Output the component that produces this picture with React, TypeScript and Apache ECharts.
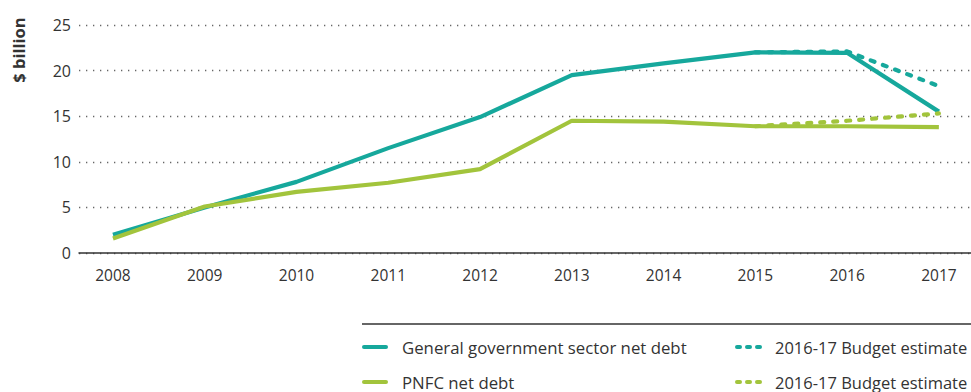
import React, { useEffect, useRef } from "react";
import * as echarts from "echarts";

const years = [2008, 2009, 2010, 2011, 2012, 2013, 2014, 2015, 2016, 2017];
const ggsNetDebt = [2.0, 5.0, 7.8, 11.5, 14.9, 19.5, 20.8, 22.0, 21.95, 15.5];
const pnfcNetDebt = [1.6, 5.1, 6.7, 7.7, 9.2, 14.5, 14.4, 13.9, 13.9, 13.8];
const budgetYears = [2015, 2016, 2017];
const ggsBudget = [22.0, 22.1, 18.3];
const pnfcBudget = [13.9, 14.5, 15.3];
const yTicks = [0, 5, 10, 15, 20, 25];

const TEAL = "#16a89c";
const GREEN = "#a2c43c";
const FONT = "Open Sans";

const pairs = (xs: number[], ys: number[]) => xs.map((x, i) => [x, ys[i]]);

export default function App() {
  const ref = useRef<HTMLDivElement>(null);
  useEffect(() => {
    if (!ref.current) return;
    const chart = echarts.init(ref.current, null, { renderer: "svg" });
    const textStyle = { fontFamily: FONT, fontSize: 16, fill: "#333" };
    chart.setOption({
      animation: false,
      grid: {
        left: 79,
        right: 0,
        top: 25,
        bottom: 139,
        containLabel: false,
        outerBoundsMode: "none",
      },
      xAxis: {
        type: "value",
        min: 2007.63,
        max: 2017.35,
        splitLine: { show: false },
        axisTick: { show: false },
        axisLine: { show: true, lineStyle: { color: "#333", width: 1.5 } },
        axisLabel: {
          customValues: years,
          formatter: (v: number) => String(v),
          fontFamily: FONT,
          fontSize: 15.5,
          color: "#333",
          margin: 14,
        },
      },
      yAxis: {
        type: "value",
        min: 0,
        max: 25,
        interval: 5,
        axisLine: { show: false },
        axisTick: { show: false },
        axisLabel: {
          customValues: yTicks,
          fontFamily: FONT,
          fontSize: 16,
          color: "#333",
          margin: 8,
        },
        splitLine: {
          show: true,
          lineStyle: { color: "#666", width: 1.3, type: [1.3, 5.7] },
        },
      },
      series: [
        {
          name: "2016-17 Budget estimate (GGS)",
          type: "line",
          data: pairs(budgetYears, ggsBudget),
          symbol: "none",
          lineStyle: { color: TEAL, width: 4.2, type: [4, 9], cap: "round" },
          z: 3,
        },
        {
          name: "General government sector net debt",
          type: "line",
          data: pairs(years, ggsNetDebt),
          symbol: "none",
          lineStyle: { color: TEAL, width: 4.2 },
          z: 2,
        },
        {
          name: "2016-17 Budget estimate (PNFC)",
          type: "line",
          data: pairs(budgetYears, pnfcBudget),
          symbol: "none",
          lineStyle: { color: GREEN, width: 4.2, type: [4, 9], cap: "round" },
          z: 5,
        },
        {
          name: "PNFC net debt",
          type: "line",
          data: pairs(years, pnfcNetDebt),
          symbol: "none",
          lineStyle: { color: GREEN, width: 4.2 },
          z: 4,
        },
      ],
      graphic: [
        {
          type: "text",
          x: 18,
          y: 50,
          rotation: Math.PI / 2,
          style: {
            ...textStyle,
            fontSize: 16.5,
            text: "$ billion",
            fontWeight: "bold",
            align: "center",
            verticalAlign: "middle",
          },
        },
        {
          type: "line",
          shape: { x1: 362, y1: 324, x2: 971, y2: 324 },
          style: { stroke: "#333", lineWidth: 1.3 },
        },
        {
          type: "line",
          shape: { x1: 364, y1: 347, x2: 386, y2: 347 },
          style: { stroke: TEAL, lineWidth: 4, lineCap: "round" },
        },
        {
          type: "text",
          x: 402,
          y: 347,
          style: { ...textStyle, fontSize: 16.8, text: "General government sector net debt", verticalAlign: "middle" },
        },
        {
          type: "line",
          shape: { x1: 364, y1: 382, x2: 386, y2: 382 },
          style: { stroke: GREEN, lineWidth: 4, lineCap: "round" },
        },
        {
          type: "text",
          x: 402,
          y: 382,
          style: { ...textStyle, fontSize: 16.8, text: "PNFC net debt", verticalAlign: "middle" },
        },
        {
          type: "line",
          shape: { x1: 737, y1: 347, x2: 760, y2: 347 },
          style: { stroke: TEAL, lineWidth: 4, lineCap: "round", lineDash: [3, 7] },
        },
        {
          type: "text",
          x: 775,
          y: 347,
          style: { ...textStyle, fontSize: 16.5, text: "2016-17 Budget estimate", verticalAlign: "middle" },
        },
        {
          type: "line",
          shape: { x1: 737, y1: 382, x2: 760, y2: 382 },
          style: { stroke: GREEN, lineWidth: 4, lineCap: "round", lineDash: [3, 7] },
        },
        {
          type: "text",
          x: 775,
          y: 382,
          style: { ...textStyle, fontSize: 16.5, text: "2016-17 Budget estimate", verticalAlign: "middle" },
        },
      ],
    });
    return () => chart.dispose();
  }, []);
  return <div ref={ref} style={{ width: 971, height: 392, position: "absolute", left: 0, top: 0 }} />;
}
